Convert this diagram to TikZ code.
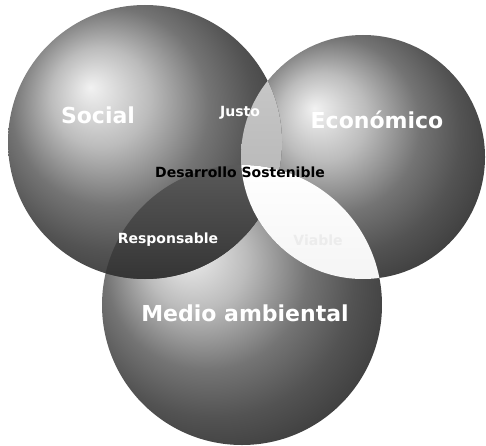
\documentclass[tikz,border=0pt]{standalone}
\usepackage{fontspec}
\setmainfont{DejaVu Sans}
\begin{document}
\begin{tikzpicture}[x=1pt,y=1pt,
  sphere/.style={ball color=gray!70},
  big/.style={font=\bfseries\fontsize{22}{26}\selectfont, text=white},
  small/.style={font=\bfseries\fontsize{14}{17}\selectfont, text=white}]
  \useasboundingbox (0,0) rectangle (486,445);
  \coordinate (soc) at (145,303);
  \coordinate (eco) at (363,288);
  \coordinate (med) at (242,140);
  % the three spheres
  \shade[sphere] (med) circle[radius=140pt];
  \shade[sphere] (eco) circle[radius=122pt];
  \shade[sphere] (soc) circle[radius=137pt];
  % overlaps
  \begin{scope}
    \clip (soc) circle[radius=137pt];
    \shade[top color=gray!40, bottom color=gray!65] (eco) circle[radius=122pt];
  \end{scope}
  \begin{scope}
    \clip (soc) circle[radius=137pt];
    \shade[top color=gray!70!black, bottom color=black] (med) circle[radius=140pt];
  \end{scope}
  \begin{scope}
    \clip (eco) circle[radius=122pt];
    \shade[top color=white, bottom color=gray!20] (med) circle[radius=140pt];
  \end{scope}
  % labels
  \node[big] (social) at (98,330) {Social};
  \node[big] (economico) at (377,325) {Económico};
  \node[big] (medio) at (245,132) {Medio ambiental};
  \node[small] (justo) at (240,332) {Justo};
  \node[small, text=black] (desarrollo) at (240,273) {Desarrollo Sostenible};
  \node[small] (responsable) at (168,205) {Responsable};
  \node[small, text=gray!15] (viable) at (318,205) {Viable};
\end{tikzpicture}
\end{document}
